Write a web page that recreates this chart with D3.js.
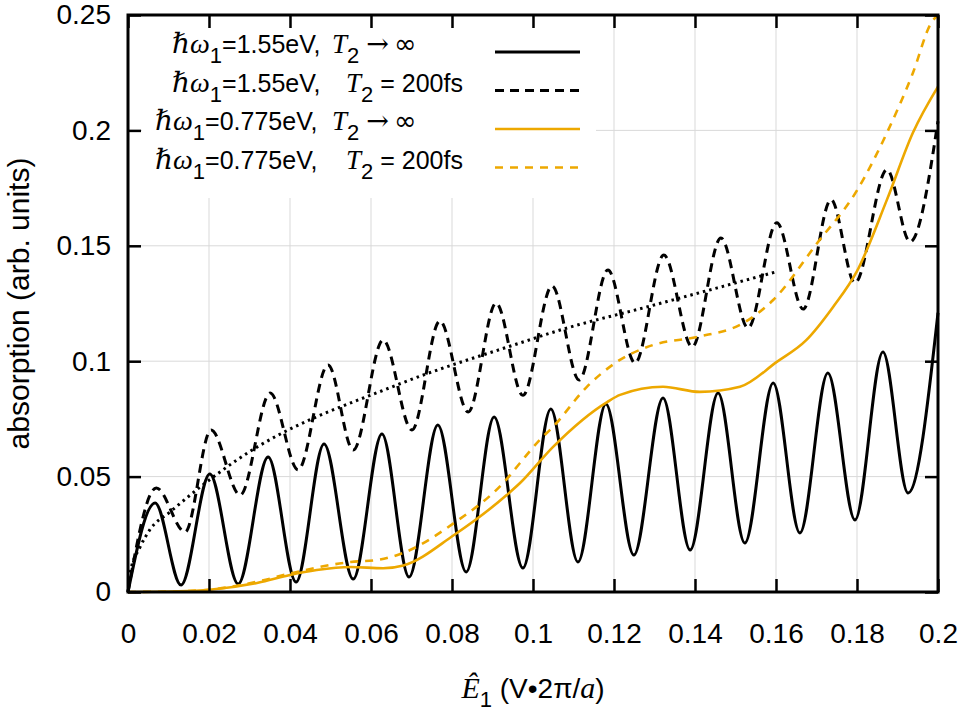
<!DOCTYPE html>
<html>
<head>
<meta charset="utf-8">
<script src="https://cdn.jsdelivr.net/npm/d3@7"></script>
<style>
  body { margin: 0; background: #fff; }
  svg { display: block; }
  .tick text { font-family: "Liberation Sans", Arial, sans-serif; font-size: 28px; fill: #000; }
  .serif { font-family: "Liberation Serif", "DejaVu Serif", serif; font-style: italic; }
</style>
</head>
<body>
<svg id="chart" width="961" height="719"></svg>
<script>
// ---- data: [E1, absorption] ----
const w155Inf = [
  [0, 0], [0.0067, 0.0386], [0.0131, 0.0030], [0.0202, 0.0511], [0.0272, 0.0035],
  [0.0346, 0.0585], [0.0415, 0.0043], [0.0484, 0.0641], [0.0556, 0.0056],
  [0.0627, 0.0685], [0.0694, 0.0065], [0.0765, 0.0724], [0.0835, 0.0087],
  [0.0904, 0.0758], [0.0975, 0.0104], [0.1044, 0.0793], [0.1111, 0.0130],
  [0.1180, 0.0815], [0.1249, 0.0160], [0.1321, 0.0841], [0.1388, 0.0182],
  [0.1457, 0.0862], [0.1523, 0.0212], [0.1593, 0.0906], [0.1659, 0.0256],
  [0.1728, 0.0949], [0.1795, 0.0312], [0.1864, 0.1040], [0.1926, 0.0429],
  [0.2000, 0.1210]
];

const w155T200 = [
  [0, 0], [0.0070, 0.0451], [0.0141, 0.0260], [0.0205, 0.0702], [0.0277, 0.0420],
  [0.0351, 0.0862], [0.0420, 0.0529], [0.0494, 0.0984], [0.0556, 0.0615],
  [0.0630, 0.1092], [0.0701, 0.0702], [0.0770, 0.1174], [0.0840, 0.0780],
  [0.0909, 0.1252], [0.0975, 0.0852], [0.1047, 0.1326], [0.1114, 0.0919],
  [0.1185, 0.1395], [0.1252, 0.0992], [0.1323, 0.1460], [0.1393, 0.1062],
  [0.1464, 0.1534], [0.1531, 0.1144], [0.1602, 0.1600], [0.1667, 0.1226],
  [0.1736, 0.1700], [0.1795, 0.1339], [0.1874, 0.1830], [0.1931, 0.1517],
  [0.2000, 0.2040]
];

const w0775Inf = [
  [0, 0], [0.0123, 0.0003], [0.0202, 0.0010], [0.0321, 0.0040], [0.0400, 0.0074],
  [0.0466, 0.0095], [0.0550, 0.0108], [0.0630, 0.0103], [0.0680, 0.0115],
  [0.0805, 0.0247], [0.0935, 0.0420], [0.0968, 0.0472], [0.1049, 0.0628],
  [0.1183, 0.0823], [0.1215, 0.0854], [0.1321, 0.0889], [0.1412, 0.0867],
  [0.1511, 0.0889], [0.1602, 0.0997], [0.1674, 0.1090], [0.1741, 0.1235],
  [0.1800, 0.1390], [0.1874, 0.1700], [0.1938, 0.1990], [0.2000, 0.2190]
];

const w0775T200 = [
  [0, 0], [0.0123, 0.0003], [0.0200, 0.0010], [0.0320, 0.0045], [0.0400, 0.0080],
  [0.0550, 0.0130], [0.0617, 0.0139], [0.0679, 0.0169], [0.0805, 0.0299],
  [0.0933, 0.0485], [0.0968, 0.0559], [0.1017, 0.0660], [0.1049, 0.0715],
  [0.1133, 0.0889], [0.1207, 0.0997], [0.1296, 0.1070], [0.1405, 0.1105],
  [0.1519, 0.1165], [0.1593, 0.1265], [0.1701, 0.1510], [0.1800, 0.1740],
  [0.1874, 0.1990], [0.1938, 0.2249], [0.1983, 0.2465], [0.2000, 0.2500]
];

// dotted guide through the middle of the damped oscillation
const guide155 = [
  [0, 0], [0.0005, 0.0080], [0.0030, 0.0195], [0.0054, 0.0270], [0.0104, 0.0347],
  [0.0185, 0.0464], [0.0269, 0.0572], [0.0664, 0.0897], [0.0968, 0.1079],
  [0.1067, 0.1135], [0.1281, 0.1235], [0.1600, 0.1387]
];

const xTicks = [0, 0.02, 0.04, 0.06, 0.08, 0.1, 0.12, 0.14, 0.16, 0.18, 0.2];
const yTicks = [0, 0.05, 0.1, 0.15, 0.2, 0.25];

// legend rows: photon energy and T2 part
const legendOmega = ["1.55", "1.55", "0.775", "0.775"];
const legendT2 = ["\u2192", "= 200fs", "\u2192", "= 200fs"];

const ORANGE = "#eda800";

const series = [
  { data: w155Inf,   color: "#000", width: 3,   dash: null },
  { data: w155T200,  color: "#000", width: 3,   dash: "9,6" },
  { data: w0775Inf,  color: ORANGE, width: 2.6, dash: null },
  { data: w0775T200, color: ORANGE, width: 2.6, dash: "8,7" }
];

const svg = d3.select("#chart");
const margin = { left: 128, right: 23, top: 15, bottom: 127 };
const W = 961, H = 719;

const x = d3.scaleLinear().domain([0, 0.2]).range([margin.left, W - margin.right]);
const y = d3.scaleLinear().domain([0, 0.25]).range([H - margin.bottom, margin.top]);

const fmt = d => String(+d.toFixed(2));

// grid
const grid = svg.append("g").attr("stroke", "#d9d9d9").attr("stroke-width", 1);
grid.selectAll("line.v").data(xTicks.slice(1, -1)).enter().append("line")
  .attr("x1", d => x(d)).attr("x2", d => x(d))
  .attr("y1", y(0)).attr("y2", y(0.25));
grid.selectAll("line.h").data(yTicks.slice(1, -1)).enter().append("line")
  .attr("x1", x(0)).attr("x2", x(0.2))
  .attr("y1", d => y(d)).attr("y2", d => y(d));

// curves
const line = d3.line()
  .x(d => x(d[0]))
  .y(d => y(d[1]))
  .curve(d3.curveMonotoneX);

const plot = svg.append("g");
series.forEach(s => {
  plot.append("path")
    .attr("d", line(s.data))
    .attr("fill", "none")
    .attr("stroke", s.color)
    .attr("stroke-width", s.width)
    .attr("stroke-dasharray", s.dash)
    .attr("stroke-linejoin", "round");
});

plot.append("path")
  .attr("d", line(guide155))
  .attr("fill", "none")
  .attr("stroke", "#000")
  .attr("stroke-width", 3)
  .attr("stroke-dasharray", "2.5,4");

// legend box (opaque, hides grid)
svg.append("rect")
  .attr("x", 142).attr("y", 28)
  .attr("width", 454).attr("height", 170)
  .attr("fill", "#fff");

// axes, ticks point inward on all four sides
const tickLen = 13;
const axB = svg.append("g").attr("transform", `translate(0,${y(0)})`)
  .call(d3.axisBottom(x).tickValues(xTicks).tickSize(-tickLen).tickPadding(31).tickFormat(fmt));
const axL = svg.append("g").attr("transform", `translate(${x(0)},0)`)
  .call(d3.axisLeft(y).tickValues(yTicks).tickSize(-tickLen).tickPadding(17).tickFormat(fmt));
const axT = svg.append("g").attr("transform", `translate(0,${y(0.25)})`)
  .call(d3.axisTop(x).tickValues(xTicks).tickSize(-tickLen).tickFormat(""));
const axR = svg.append("g").attr("transform", `translate(${x(0.2)},0)`)
  .call(d3.axisRight(y).tickValues(yTicks).tickSize(-tickLen).tickFormat(""));

[axB, axL, axT, axR].forEach(a => {
  a.select(".domain").remove();
  a.selectAll(".tick line").attr("stroke", "#000").attr("stroke-width", 2.5);
});
axL.selectAll(".tick text").attr("dy", "0.32em");

svg.append("rect")
  .attr("x", x(0)).attr("y", y(0.25))
  .attr("width", x(0.2) - x(0)).attr("height", y(0) - y(0.25))
  .attr("fill", "none").attr("stroke", "#000").attr("stroke-width", 3);

// axis titles
svg.append("text")
  .attr("transform", `translate(29,${(y(0) + y(0.25)) / 2}) rotate(-90)`)
  .attr("text-anchor", "middle")
  .attr("font-family", "Liberation Sans, Arial, sans-serif")
  .attr("font-size", 30)
  .text("absorption (arb. units)");

const xt = svg.append("text")
  .attr("x", (x(0) + x(0.2)) / 2).attr("y", 698)
  .attr("text-anchor", "middle")
  .attr("font-family", "Liberation Sans, Arial, sans-serif")
  .attr("font-size", 28);
xt.append("tspan").attr("class", "serif").attr("font-size", 30).text("\u00ca");
xt.append("tspan").attr("font-size", 22).attr("dy", 9).text("1");
xt.append("tspan").attr("dy", -9).text(" (V\u20222\u03c0/");
xt.append("tspan").attr("class", "serif").attr("font-size", 30).text("a");
xt.append("tspan").text(")");

// legend entries (gnuplot/LaTeX spacing makes the rows ragged)
const rowY0 = 53, rowGap = 38.5, sub = 10;
legendOmega.forEach((om, i) => {
  const by = rowY0 + i * rowGap;
  const isArrow = legendT2[i] === "\u2192";
  const t = svg.append("text")
    .attr("x", om.length > 4 ? 155 : 172).attr("y", by)
    .attr("font-family", "Liberation Sans, Arial, sans-serif")
    .attr("font-size", 25);
  t.append("tspan").attr("class", "serif").attr("font-size", 28).text("\u210f\u03c9");
  t.append("tspan").attr("font-size", 22).attr("dy", sub).text("1");
  t.append("tspan").attr("dy", -sub).text("=" + om + "eV,");
  t.append("tspan").attr("class", "serif").attr("font-size", 27)
    .attr("x", isArrow ? 332 : 346).text("T");
  t.append("tspan").attr("font-size", 22).attr("dy", sub).text("2");
  if (isArrow) {
    t.append("tspan").attr("dy", -sub).attr("dx", 7)
      .attr("font-family", "DejaVu Serif, serif").attr("font-size", 27).text("\u2192");
    t.append("tspan").attr("dx", 5)
      .attr("font-family", "DejaVu Sans, sans-serif").attr("font-size", 27).text("\u221e");
  } else {
    t.append("tspan").attr("dy", -sub).text(" " + legendT2[i]);
  }

  const s = series[i];
  svg.append("line")
    .attr("x1", 495).attr("x2", 580)
    .attr("y1", by - 1).attr("y2", by - 1)
    .attr("stroke", s.color)
    .attr("stroke-width", s.width)
    .attr("stroke-dasharray", s.dash);
});
</script>
</body>
</html>
